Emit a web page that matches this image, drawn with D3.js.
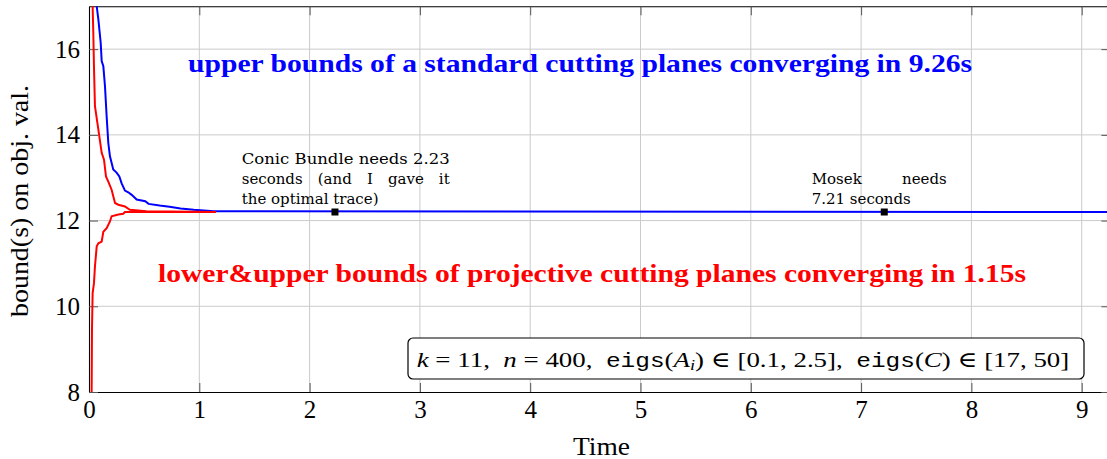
<!DOCTYPE html>
<html>
<head>
<meta charset="utf-8">
<script src="https://cdn.jsdelivr.net/npm/d3@7"></script>
<style>
  html, body { margin: 0; padding: 0; background: #fff; }
  svg { display: block; }
</style>
</head>
<body>
<svg id="chart" width="1107" height="459"></svg>
<script>
// Upper bounds of the standard cutting-plane method (time in seconds, bound value)
const blueTime  = [0.062, 0.070, 0.085, 0.106, 0.115, 0.130, 0.145, 0.160, 0.175, 0.190, 0.220, 0.250, 0.275, 0.296, 0.326, 0.356, 0.387, 0.432, 0.510, 0.540, 0.640, 0.730, 0.830, 0.950, 1.130, 9.26];
const blueBound = [17.80, 17.00, 16.69, 16.15, 15.72, 15.60, 15.13, 14.43, 13.81, 13.50, 13.19, 13.12, 13.03, 12.87, 12.70, 12.66, 12.60, 12.49, 12.45, 12.39, 12.35, 12.32, 12.28, 12.25, 12.22, 12.20];

// Upper bounds of projective cutting planes
const redUpTime  = [0.030, 0.033, 0.039, 0.045, 0.054, 0.085, 0.115, 0.136, 0.154, 0.175, 0.205, 0.236, 0.266, 0.326, 0.370, 0.520, 1.15];
const redUpBound = [17.80, 17.00, 16.38, 15.60, 14.67, 14.12, 13.58, 13.42, 13.03, 12.91, 12.72, 12.41, 12.37, 12.33, 12.25, 12.22, 12.20];

// Lower bounds of projective cutting planes
const redLoTime  = [0.022, 0.024, 0.027, 0.033, 0.045, 0.054, 0.070, 0.085, 0.115, 0.130, 0.160, 0.190, 0.205, 0.266, 0.310, 0.326, 1.15];
const redLoBound = [7.50, 8.00, 9.45, 10.31, 10.54, 10.93, 11.40, 11.47, 11.51, 11.74, 11.82, 11.98, 12.10, 12.14, 12.16, 12.20, 12.20];

// Finishing times of the other solvers
const solverNames = ["Conic Bundle", "Mosek"];
const solverTimes = [2.23, 7.21];
const solverValue = 12.2;

// Axis ticks
const xTicks = [0, 1, 2, 3, 4, 5, 6, 7, 8, 9];
const yTicks = [8, 10, 12, 14, 16];
const xDomain = [0, 9.26];
const yDomain = [8, 17];

const SERIF = "'Liberation Serif', 'DejaVu Serif', serif";
const NOTE = "'DejaVu Serif', serif";
const MONO = "'Liberation Mono', 'DejaVu Sans Mono', monospace";

const svg = d3.select("#chart");
const plotLeft = 89, plotBottom = 392, plotTop = 6.3;
const x = d3.scaleLinear().domain(xDomain).range([plotLeft, plotLeft + 9.26 * 110.3]);
const y = d3.scaleLinear().domain(yDomain).range([plotBottom, plotTop]);
const plotRight = x(xDomain[1]);

svg.append("defs").append("clipPath").attr("id", "plotClip")
  .append("rect").attr("x", plotLeft).attr("y", plotTop)
  .attr("width", plotRight - plotLeft).attr("height", plotBottom - plotTop);

// grid
const grid = svg.append("g").attr("stroke", "#cbcbcb").attr("stroke-width", 1);
grid.selectAll("line.vx").data(xTicks.filter(d => d > 0)).join("line")
  .attr("x1", d => x(d)).attr("x2", d => x(d)).attr("y1", plotTop).attr("y2", plotBottom);
grid.selectAll("line.hy").data(yTicks.filter(d => d > 8)).join("line")
  .attr("y1", d => y(d)).attr("y2", d => y(d)).attr("x1", plotLeft).attr("x2", plotRight);

// axes with inward ticks
function styleAxis(g) {
  g.select(".domain").attr("stroke", "#000").attr("stroke-width", 1.1);
  g.selectAll(".tick line").attr("stroke", "#555").attr("stroke-width", 1);
}
const axB = svg.append("g").attr("transform", `translate(0,${plotBottom})`)
  .call(d3.axisBottom(x).tickValues(xTicks).tickSize(-9).tickSizeOuter(0).tickFormat(d3.format("d")))
  .call(styleAxis);
axB.selectAll(".tick text").attr("y", 26).attr("dy", null)
  .attr("fill", "#000").style("font-size", "25px").style("font-family", SERIF);

svg.append("g").attr("transform", `translate(0,${plotTop})`)
  .call(d3.axisTop(x).tickValues(xTicks).tickSize(-9).tickSizeOuter(0).tickFormat(""))
  .call(styleAxis);

const axL = svg.append("g").attr("transform", `translate(${plotLeft},0)`)
  .call(d3.axisLeft(y).tickValues(yTicks).tickSize(-9).tickSizeOuter(0).tickFormat(d3.format("d")))
  .call(styleAxis);
axL.selectAll(".tick text").attr("x", -9).attr("dy", "0.32em")
  .attr("fill", "#000").style("font-size", "25px").style("font-family", SERIF);

svg.append("g").attr("transform", `translate(${plotRight},0)`)
  .call(d3.axisRight(y).tickValues(yTicks).tickSize(-9).tickSizeOuter(0).tickFormat(""))
  .call(styleAxis);

// series
const line = d3.line().x(d => x(d[0])).y(d => y(d[1]));
const plot = svg.append("g").attr("clip-path", "url(#plotClip)");
plot.append("path").datum(d3.zip(blueTime, blueBound))
  .attr("d", line).attr("fill", "none").attr("stroke", "#0000ff").attr("stroke-width", 2);
plot.append("path").datum(d3.zip(redLoTime, redLoBound))
  .attr("d", line).attr("fill", "none").attr("stroke", "#ff0000").attr("stroke-width", 2);
plot.append("path").datum(d3.zip(redUpTime, redUpBound))
  .attr("d", line).attr("fill", "none").attr("stroke", "#ff0000").attr("stroke-width", 2);

// solver finishing markers
svg.append("g").selectAll("rect").data(solverTimes).join("rect")
  .attr("x", d => x(d) - 3.5).attr("y", y(solverValue) - 3.5)
  .attr("width", 7).attr("height", 7).attr("fill", "#000");

// text helpers
function label(parent, xx, yy, size, fam, str) {
  return parent.append("text").attr("x", xx).attr("y", yy)
    .style("font-size", size + "px").style("font-family", fam).text(str);
}
function fitText(sel, width) {
  sel.attr("textLength", width).attr("lengthAdjust", "spacingAndGlyphs");
  return sel;
}
function justify(g, str, x0, width, yb, size, fam) {
  const words = str.split(" ");
  const nodes = words.map(w => label(g, 0, yb, size, fam, w));
  const widths = nodes.map(n => n.node().getComputedTextLength());
  const gap = (width - d3.sum(widths)) / (words.length - 1);
  let cx = x0;
  nodes.forEach((n, i) => { n.attr("x", cx); cx += widths[i] + gap; });
}

// headline labels
fitText(label(svg, 188, 71.5, 26, SERIF, "upper bounds of a standard cutting planes converging in 9.26s")
  .style("font-weight", "bold").attr("fill", "#0000ff"), 784);
fitText(label(svg, 158, 282, 26, SERIF, "lower&upper bounds of projective cutting planes converging in 1.15s")
  .style("font-weight", "bold").attr("fill", "#ff0000"), 868);

// solver notes
const notes = svg.append("g").attr("fill", "#000");
fitText(label(notes, 241.7, 164, 15, NOTE, `${solverNames[0]} needs ${solverTimes[0]}`), 208);
justify(notes, "seconds (and I gave it", 241.7, 208, 184, 15, NOTE);
label(notes, 241.7, 204, 15, NOTE, "the optimal trace)");
justify(notes, `${solverNames[1]} needs`, 811.7, 135, 184, 15, NOTE);
label(notes, 811.7, 204, 15, NOTE, `${solverTimes[1]} seconds`);

// parameter box
svg.append("rect").attr("x", 408).attr("y", 338).attr("width", 676).attr("height", 41)
  .attr("rx", 5).attr("fill", "#fff").attr("stroke", "#000").attr("stroke-width", 1.2);
const box = label(svg, 0, 0, 22, SERIF, null).attr("fill", "#000").style("white-space", "pre");
const parts = [
  ["k", "i"], [" = 11,  ", "r"], ["n", "i"], [" = 400,  ", "r"],
  ["eigs", "m"], ["(", "r"], ["A", "i"], ["i", "s"], [") \u2208 [0.1, 2.5],  ", "r"],
  ["eigs", "m"], ["(", "r"], ["C", "i"], [") \u2208 [17, 50]", "r"]
];
parts.forEach(([t, k]) => {
  const ts = box.append("tspan").text(t);
  if (k === "i") ts.style("font-style", "italic");
  if (k === "m") ts.style("font-family", MONO).style("font-size", "20px");
  if (k === "s") ts.style("font-style", "italic").style("font-size", "15px").attr("baseline-shift", "-4");
});
const bw = box.node().getBBox().width;
box.attr("transform", `translate(416.7,366.7) scale(${653 / bw},1)`);

// axis titles
fitText(label(svg, 601.5, 455, 25, SERIF, "Time").attr("text-anchor", "middle"), 57);
fitText(label(svg, 0, 0, 25, SERIF, "bound(s) on obj. val.")
  .attr("transform", "translate(28,201) rotate(-90)").attr("text-anchor", "middle"), 232);
</script>
</body>
</html>
